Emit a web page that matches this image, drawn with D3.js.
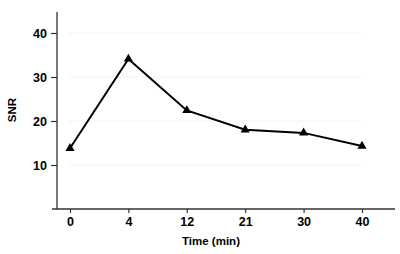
<!DOCTYPE html>
<html>
<head>
<meta charset="utf-8">
<script src="https://cdn.jsdelivr.net/npm/d3@7"></script>
<style>
  body { margin: 0; background: #fff; }
  svg text { font-family: "Liberation Sans", Arial, sans-serif; font-weight: bold; fill: #000; }
</style>
</head>
<body>
<div id="chart"></div>
<script>
// chart data
const timeLabels = ['0', '4', '12', '21', '30', '40'];
const snrValues = [13.8, 34.1, 22.4, 18.0, 17.3, 14.3];
const yTicks = [10, 20, 30, 40];

const width = 400, height = 254;

const svg = d3.select('#chart').append('svg')
    .attr('width', width)
    .attr('height', height);

// scales
const x = d3.scalePoint()
    .domain(timeLabels)
    .range([70, 362]);

const y = d3.scaleLinear()
    .domain([0, 40])
    .range([209, 33]);

// light gridlines
svg.append('g')
    .selectAll('line')
    .data(yTicks)
    .join('line')
    .attr('x1', 69).attr('x2', 362)
    .attr('y1', d => y(d)).attr('y2', d => y(d))
    .attr('stroke', '#f2f2f2')
    .attr('stroke-width', 1);

// y axis
const yAxis = svg.append('g')
    .attr('transform', 'translate(57,0)')
    .call(d3.axisLeft(y).tickValues(yTicks).tickSize(6).tickPadding(4));
yAxis.select('.domain').remove();
yAxis.selectAll('.tick line').attr('stroke', '#333').attr('stroke-width', 1.2);
yAxis.selectAll('.tick text').style('font-size', '12.5px');
svg.append('line')
    .attr('x1', 57).attr('x2', 57)
    .attr('y1', 12).attr('y2', 209)
    .attr('stroke', '#333').attr('stroke-width', 1.3);

// x axis
const xAxis = svg.append('g')
    .attr('transform', 'translate(0,209)')
    .call(d3.axisBottom(x).tickSize(4).tickPadding(4));
xAxis.select('.domain').remove();
xAxis.selectAll('.tick line').attr('stroke', '#333').attr('stroke-width', 1.2);
xAxis.selectAll('.tick text').style('font-size', '12.5px');
svg.append('line')
    .attr('x1', 52).attr('x2', 395)
    .attr('y1', 209).attr('y2', 209)
    .attr('stroke', '#333').attr('stroke-width', 1.3);

// axis titles
svg.append('text')
    .attr('transform', 'translate(16,110) rotate(-90)')
    .attr('text-anchor', 'middle')
    .style('font-size', '11.5px')
    .text('SNR');

svg.append('text')
    .attr('x', 211)
    .attr('y', 245)
    .attr('text-anchor', 'middle')
    .style('font-size', '11.5px')
    .text('Time (min)');

// line
const line = d3.line()
    .x((d, i) => x(timeLabels[i]))
    .y(d => y(d));

svg.append('path')
    .datum(snrValues)
    .attr('d', line)
    .attr('fill', 'none')
    .attr('stroke', '#000')
    .attr('stroke-width', 2);

// triangle markers
const tri = d3.symbol().type(d3.symbolTriangle).size(36);
svg.append('g')
    .selectAll('path')
    .data(snrValues)
    .join('path')
    .attr('d', tri)
    .attr('transform', (d, i) => `translate(${x(timeLabels[i])},${y(d)})`)
    .attr('fill', '#000');
</script>
</body>
</html>
